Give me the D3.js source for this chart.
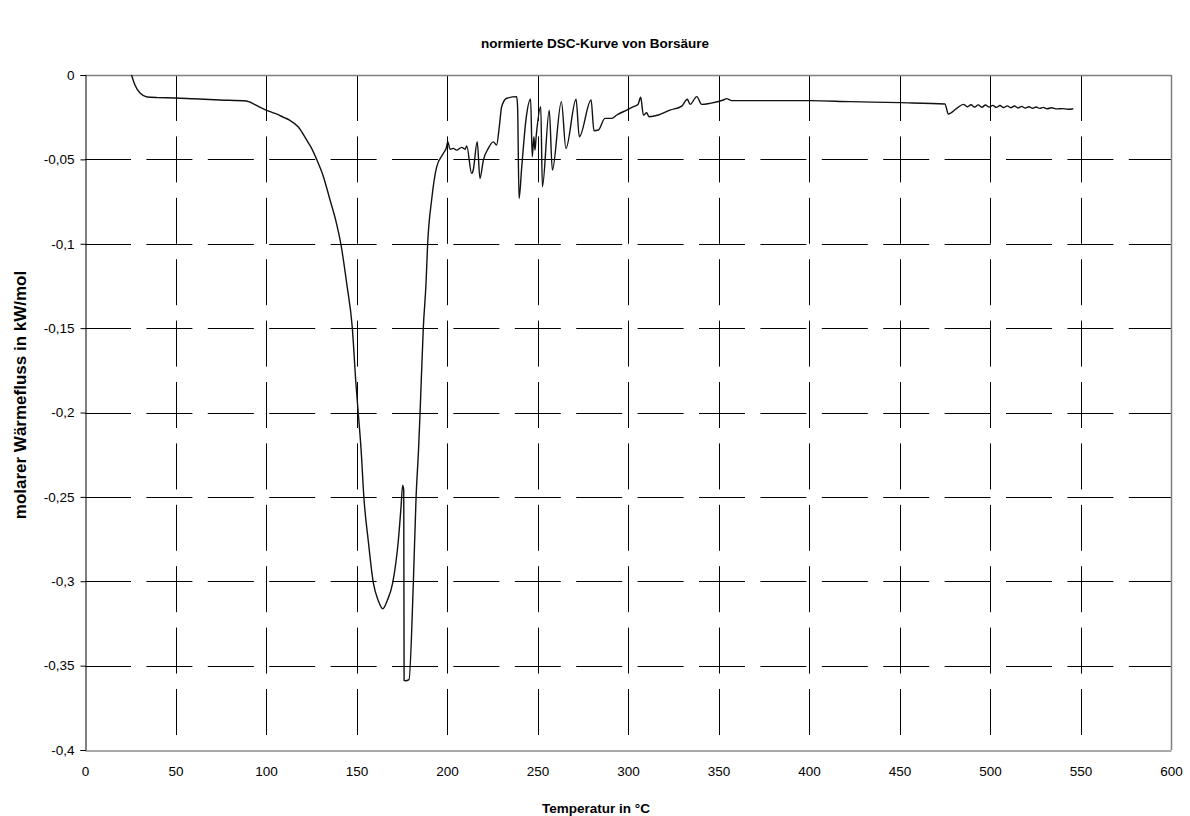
<!DOCTYPE html>
<html>
<head>
<meta charset="utf-8">
<script src="https://cdn.jsdelivr.net/npm/d3@7"></script>
<style>
  body { margin: 0; background: #fff; }
  svg text { font-family: "Liberation Sans", Arial, sans-serif; }
  .title, .axislabel { font-weight: bold; font-size: 13.5px; }
  .ticklabel { font-size: 13.5px; }
</style>
</head>
<body>
<div id="chart"></div>
<script>
// temperature in °C
const temps = [
  25.7, 27.6, 30.4, 34.3, 40, 49.7, 60, 74.6, 89, 91,
  95, 100, 105, 110, 113, 118, 122.5, 125, 128, 131.5,
  135.4, 138.5, 141.4, 144.6, 147.7, 149.7, 151,
  152.5, 154.1, 156.5, 159.3, 162, 164.5, 167, 170, 173.1, 174.6,
  175.5, 176.1, 176.3, 177, 179, 181.4, 182.9, 184.3, 185.1, 186.9,
  188.4, 189.3, 191.5, 194.3, 198, 199.8, 200.4, 201.7, 203.5, 205.3,
  208.1, 210, 210.9, 213.6, 214.5, 216.7, 218.2, 220.1, 222.8, 225.6,
  227.4, 228.9, 230.2, 233, 238.5, 239, 239.8, 241.3, 243.6, 246.2,
  247.1, 248, 248.6, 249.3, 251.8, 252.7, 256.5, 258.2, 263.2, 265.7,
  271.3, 273.1, 279.6, 281.2, 283.6, 287.3, 291, 293.8, 299.3, 303,
  305.5, 307, 308.5, 310.3, 311.6, 316.8, 323.2, 329.7, 332.8, 334.3,
  338, 340.7, 345.3, 352.7, 354.5, 357.3, 376.6, 400.6, 422.7, 450.3,
  475.1, 477, 481.6, 485.3, 487.5, 489.5, 491.5, 493.5, 495.5, 497.5,
  499.5, 501.5, 503.5, 505.5, 507.5, 509.5, 511.5, 513.5, 515.5, 517.5,
  519.5, 521.5, 523.5, 525.5, 527.5, 529.5, 531.5, 534, 537, 540,
  543, 546
];
// molar heat flow in kW/mol
const heatFlow = [
  0, -0.0059, -0.0107, -0.013, -0.0134, -0.0136, -0.0141, -0.0148, -0.0154, -0.016,
  -0.0182, -0.0208, -0.0228, -0.0252, -0.0267, -0.031, -0.0386, -0.043, -0.05, -0.0595,
  -0.0741, -0.086, -0.1004, -0.1236, -0.150, -0.183, -0.2007,
  -0.2214, -0.2507, -0.276, -0.301, -0.3114, -0.3163, -0.3114, -0.301, -0.276, -0.256,
  -0.2432, -0.246, -0.3588, -0.359, -0.3583, -0.301, -0.2507, -0.2214, -0.2007, -0.150,
  -0.1236, -0.1004, -0.0741, -0.0544, -0.0464, -0.0425, -0.0395, -0.044, -0.0435, -0.0445,
  -0.0429, -0.044, -0.042, -0.0583, -0.0563, -0.0395, -0.0613, -0.0504, -0.0435, -0.0396,
  -0.0415, -0.0306, -0.0188, -0.0138, -0.0128, -0.0188, -0.0732, -0.0544, -0.0267, -0.0144,
  -0.0484, -0.0366, -0.0445, -0.036, -0.0188, -0.0662, -0.0208, -0.0563, -0.0158, -0.0435,
  -0.0144, -0.0366, -0.0148, -0.033, -0.0326, -0.0257, -0.0257, -0.0237, -0.0208, -0.0188,
  -0.0175, -0.0132, -0.0237, -0.0224, -0.0247, -0.0237, -0.0208, -0.0184, -0.0144, -0.0174,
  -0.0128, -0.0174, -0.0168, -0.0148, -0.014, -0.0152, -0.0152, -0.0152, -0.0158, -0.0164,
  -0.0172, -0.0231, -0.0198, -0.0174, -0.0188, -0.0176, -0.0190, -0.0177, -0.0191, -0.0178,
  -0.0190, -0.0180, -0.0192, -0.0181, -0.0193, -0.0183, -0.0194, -0.0184, -0.0195, -0.0186,
  -0.0196, -0.0188, -0.0197, -0.0190, -0.0198, -0.0192, -0.0200, -0.0194, -0.0201, -0.0199,
  -0.0203, -0.0200
];

const xTicks = [0, 50, 100, 150, 200, 250, 300, 350, 400, 450, 500, 550, 600];
const yTicks = [0, -0.05, -0.1, -0.15, -0.2, -0.25, -0.3, -0.35, -0.4];

const titleText = "normierte DSC-Kurve von Borsäure";
const xLabel = "Temperatur in °C";
const yLabel = "molarer Wärmefluss in kW/mol";

const width = 1190, height = 816;
const margin = {top: 75, right: 19, bottom: 66, left: 85};
const w = width - margin.left - margin.right;
const h = height - margin.top - margin.bottom;

const de = d3.formatLocale({decimal: ",", thousands: ".", grouping: [3], currency: ["", " €"], minus: "-"});
const fmtY = de.format(".2~f");

const svg = d3.select("#chart").append("svg")
  .attr("width", width)
  .attr("height", height);

const g = svg.append("g")
  .attr("transform", "translate(" + margin.left + "," + margin.top + ")");

const x = d3.scaleLinear().domain([0, 600]).range([0, w]);
const y = d3.scaleLinear().domain([-0.4, 0]).range([h, 0]);

// dashed grid lines
g.append("g").selectAll("line")
  .data(yTicks.filter(d => d != 0 && d != -0.4))
  .enter().append("line")
  .attr("x1", 0).attr("x2", w)
  .attr("y1", d => Math.round(y(d)) + 0.5).attr("y2", d => Math.round(y(d)) + 0.5)
  .attr("stroke", "#000").attr("stroke-width", 1)
  .attr("stroke-dasharray", "46,15.4");

g.append("g").selectAll("line")
  .data(xTicks.filter(d => d != 0 && d != 600))
  .enter().append("line")
  .attr("y1", 0).attr("y2", h)
  .attr("x1", d => Math.round(x(d)) + 0.5).attr("x2", d => Math.round(x(d)) + 0.5)
  .attr("stroke", "#000").attr("stroke-width", 1)
  .attr("stroke-dasharray", "46,15.4");

// frame: top and right in grey
g.append("line").attr("x1", 0).attr("x2", w).attr("y1", 0.5).attr("y2", 0.5)
  .attr("stroke", "#808080").attr("stroke-width", 1.5);
g.append("line").attr("x1", w + 0.5).attr("x2", w + 0.5).attr("y1", 0).attr("y2", h)
  .attr("stroke", "#808080").attr("stroke-width", 1.5);

// y axis
const yAxis = d3.axisLeft(y).tickValues(yTicks).tickSize(5).tickPadding(6).tickFormat(fmtY);
const ya = g.append("g").attr("transform", "translate(0.5,0)").call(yAxis);
ya.select(".domain").attr("stroke", "#000");
ya.selectAll("text").attr("class", "ticklabel").attr("fill", "#000").style("font-size", "13.5px");

// x axis
const xAxis = d3.axisBottom(x).tickValues(xTicks).tickSize(0).tickPadding(16);
const xa = g.append("g").attr("transform", "translate(0," + (h + 0.5) + ")").call(xAxis);
xa.select(".domain").attr("stroke", "#555");
xa.selectAll("text").attr("class", "ticklabel").attr("fill", "#000").style("font-size", "13.5px");

svg.selectAll(".tick text").style("font-family", "'Liberation Sans', Arial, sans-serif");

// curve
const line = d3.line()
  .x((d, i) => x(temps[i]))
  .y((d, i) => y(heatFlow[i]))
  .curve(d3.curveMonotoneX);

g.append("path")
  .datum(heatFlow)
  .attr("d", line)
  .attr("fill", "none")
  .attr("stroke", "#111")
  .attr("stroke-width", 1.4)
  .attr("stroke-linejoin", "round");

// titles
svg.append("text")
  .attr("class", "title")
  .attr("x", 595).attr("y", 48)
  .attr("text-anchor", "middle")
  .text(titleText);

svg.append("text")
  .attr("class", "axislabel")
  .attr("x", 596).attr("y", 813)
  .attr("text-anchor", "middle")
  .text(xLabel);

svg.append("text")
  .attr("class", "axislabel")
  .attr("transform", "translate(26,395) rotate(-90)")
  .attr("text-anchor", "middle")
  .style("font-size", "17px")
  .text(yLabel);
</script>
</body>
</html>
